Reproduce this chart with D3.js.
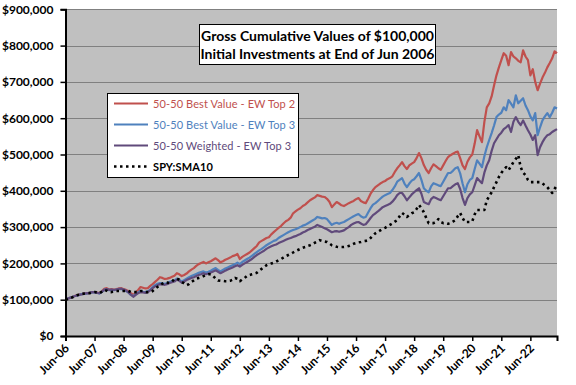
<!DOCTYPE html>
<html>
<head>
<meta charset="utf-8">
<script src="https://cdn.jsdelivr.net/npm/d3@7"></script>
<style>
  body { margin: 0; background: #fff; }
  svg text { font-family: Lato, "Open Sans", sans-serif; }
</style>
</head>
<body>
<svg id="chart" width="576" height="385"></svg>
<script>
// monthly values in $ thousands, Jun-06 .. May-23
const bestTop2 = [
  100, 103, 106, 108, 111, 113, 115, 116, 118, 117, 119, 121,
  121, 120, 118, 123, 130, 132, 128, 129, 127, 129, 131, 132,
  129, 127, 124, 118, 113, 120, 127, 135, 133, 131, 132, 138,
  143, 149, 155, 162, 160, 157, 158, 160, 163, 166, 173, 170,
  165, 168, 172, 178, 183, 187, 193, 198, 201, 204, 200, 203,
  206, 210, 214, 209, 203, 206, 210, 213, 216, 220, 222, 226,
  212, 218, 222, 226, 230, 236, 242, 248, 258, 262, 266, 270,
  272, 280, 286, 292, 298, 303, 310, 316, 320, 326, 338, 343,
  348, 352, 358, 362, 368, 374, 378, 382, 388, 386, 384, 383,
  378, 370, 355, 362, 369, 365, 360, 358, 362, 366, 369, 372,
  377, 380, 372, 368, 366, 378, 392, 402, 410, 415, 420, 424,
  427, 432, 435, 440, 452, 462, 470, 479, 468, 460, 470, 475,
  479, 490, 504, 490, 471, 458, 449, 462, 473, 468, 462, 458,
  470, 482, 493, 498, 502, 506, 508, 490, 470, 460, 480, 492,
  500, 530, 567, 550, 534, 590, 630, 641, 660, 690, 718, 740,
  760, 779, 772, 746, 782, 770, 765, 758, 754, 787, 770, 760,
  718, 735, 700, 677, 695, 712, 725, 740, 752, 765, 784, 779
];
const bestTop3 = [
  100, 103, 106, 108, 110, 112, 114, 116, 117, 117, 119, 120,
  120, 119, 117, 121, 127, 129, 126, 127, 126, 128, 129, 130,
  127, 124, 120, 113, 110, 115, 120, 124, 122, 121, 123, 128,
  135, 140, 144, 146, 145, 144, 146, 149, 151, 153, 158, 155,
  150, 154, 158, 162, 165, 168, 171, 174, 176, 178, 175, 177,
  180, 184, 187, 182, 178, 182, 186, 189, 192, 195, 198, 202,
  198, 204, 208, 212, 216, 221, 226, 231, 236, 240, 245, 250,
  254, 258, 262, 264, 270, 274, 278, 282, 286, 289, 292, 294,
  297, 300, 304, 306, 310, 314, 318, 322, 328, 326, 324, 325,
  322, 314, 306, 310, 312, 309, 312, 314, 318, 322, 326, 330,
  333, 336, 330, 326, 328, 340, 352, 362, 366, 372, 378, 384,
  388, 391, 394, 402, 412, 425, 430, 435, 420, 410, 420, 428,
  432, 440, 449, 430, 407, 400, 396, 412, 421, 418, 415, 413,
  425, 437, 449, 449, 455, 462, 465, 448, 420, 396, 418, 430,
  435, 460, 484, 475, 465, 495, 520, 540, 559, 580, 603, 610,
  615, 630, 622, 650, 640, 630, 663, 641, 648, 655, 635, 622,
  605, 594, 614, 553, 575, 594, 605, 614, 603, 615, 630, 627
];
const weightedTop3 = [
  100, 103, 105, 108, 110, 112, 114, 115, 117, 118, 119, 121,
  121, 119, 118, 122, 127, 129, 127, 128, 127, 128, 130, 130,
  128, 125, 120, 114, 108, 113, 118, 121, 120, 119, 121, 126,
  132, 137, 140, 143, 142, 141, 143, 146, 148, 150, 155, 152,
  147, 150, 154, 157, 160, 162, 165, 168, 170, 173, 170, 172,
  175, 178, 181, 177, 173, 176, 180, 183, 186, 189, 192, 195,
  191, 196, 200, 204, 208, 212, 218, 223, 227, 231, 235, 240,
  244, 247, 250, 252, 256, 259, 262, 265, 268, 270, 273, 275,
  278, 281, 285, 288, 292, 295, 298, 301, 306, 303, 300, 297,
  294, 290, 286, 288, 289, 287, 289, 291, 296, 300, 306, 310,
  313, 314, 310, 306, 308, 316, 325, 333, 338, 343, 349, 355,
  358, 361, 364, 370, 378, 388, 394, 394, 385, 374, 382, 390,
  396, 402, 407, 392, 369, 366, 363, 377, 383, 380, 377, 374,
  385, 396, 407, 407, 413, 418, 421, 405, 380, 361, 380, 390,
  396, 415, 435, 428, 421, 450, 470, 484, 510, 531, 542, 553,
  560, 570, 575, 581, 562, 590, 603, 590, 581, 594, 580, 567,
  555, 540, 553, 498, 520, 534, 545, 553, 556, 562, 566, 570
];
const spySma10 = [
  100, 102, 105, 107, 110, 113, 114, 116, 117, 118, 118, 120,
  121, 120, 118, 122, 127, 125, 121, 121, 122, 124, 124, 124,
  124, 124, 124, 121, 121, 121, 121, 124, 124, 121, 121, 121,
  124, 130, 135, 140, 144, 148, 147, 146, 150, 157, 158, 155,
  149, 145, 140, 143, 149, 153, 158, 160, 162, 165, 168, 170,
  170, 165, 158, 153, 152, 152, 151, 151, 152, 155, 160, 158,
  151, 156, 160, 166, 168, 170, 172, 174, 180, 185, 190, 195,
  198, 200, 202, 205, 209, 212, 216, 220, 223, 226, 230, 234,
  237, 240, 243, 245, 248, 250, 253, 257, 260, 264, 262, 260,
  259, 255, 250, 248, 246, 245, 245, 245, 246, 248, 251, 254,
  256, 258, 259, 261, 262, 264, 270, 277, 283, 287, 291, 295,
  298, 302, 306, 310, 315, 319, 330, 339, 334, 328, 333, 338,
  341, 350, 361, 352, 341, 325, 311, 311, 311, 314, 322, 314,
  311, 311, 309, 311, 315, 319, 330, 339, 325, 314, 314, 314,
  316, 335, 347, 347, 347, 347, 374, 385, 396, 410, 424, 438,
  449, 458, 465, 457, 468, 479, 488, 498, 465, 450, 443, 430,
  424, 424, 424, 424, 424, 420, 415, 410, 402, 394, 405, 416
];

const seriesNames = ["50-50 Best Value - EW Top 2", "50-50 Best Value - EW Top 3",
  "50-50 Weighted - EW Top 3", "SPY:SMA10"];
const tickLabels = ["Jun-06", "Jun-07", "Jun-08", "Jun-09", "Jun-10", "Jun-11", "Jun-12",
  "Jun-13", "Jun-14", "Jun-15", "Jun-16", "Jun-17", "Jun-18", "Jun-19", "Jun-20",
  "Jun-21", "Jun-22"];
const yTicks = [0, 100, 200, 300, 400, 500, 600, 700, 800, 900];
const titleLines = ["Gross Cumulative Values of $100,000", "Initial Investments at End  of Jun 2006"];

const series = [
  {name: seriesNames[0], values: bestTop2, color: "#C0504D", dash: null},
  {name: seriesNames[1], values: bestTop3, color: "#4F81BD", dash: null},
  {name: seriesNames[2], values: weightedTop3, color: "#604A7B", dash: null},
  {name: seriesNames[3], values: spySma10, color: "#000000", dash: "2.5,3.5"}
];

const svg = d3.select("#chart");
let plot = {left: 65.5, right: 557, top: 9.3, bottom: 336};

let x = d3.scaleLinear()
  .domain([0, bestTop2.length - 1])
  .range([plot.left, plot.right]);
let y = d3.scaleLinear()
  .domain([0, 900])
  .range([plot.bottom, plot.top]);

// plot background
svg.append("rect")
  .attr("x", plot.left).attr("y", plot.top)
  .attr("width", plot.right - plot.left).attr("height", plot.bottom - plot.top)
  .attr("fill", "#C0C0C0");

// gridlines
svg.append("g")
  .selectAll("line")
  .data(yTicks.filter(d => d > 0))
  .join("line")
  .attr("x1", plot.left).attr("x2", plot.right)
  .attr("y1", d => Math.round(y(d)) + 0.5).attr("y2", d => Math.round(y(d)) + 0.5)
  .attr("stroke", "#808080").attr("stroke-width", 1);

// series lines
let line = d3.line()
  .x((d, i) => x(i))
  .y(d => y(d));

svg.append("g")
  .selectAll("path")
  .data(series)
  .join("path")
  .attr("d", d => line(d.values))
  .attr("fill", "none")
  .attr("stroke", d => d.color)
  .attr("stroke-width", d => d.dash ? 2.6 : 2.2)
  .attr("stroke-linejoin", "round")
  .attr("stroke-dasharray", d => d.dash);

// y axis
let yAxis = d3.axisLeft(y)
  .tickValues(yTicks)
  .tickSize(5)
  .tickPadding(7)
  .tickFormat(d => "$" + d3.format(",")(d * 1000));

svg.append("g")
  .attr("transform", "translate(" + plot.left + ",0)")
  .call(yAxis)
  .call(g => g.select(".domain").attr("stroke-width", 2))
  .call(g => g.selectAll(".tick line").attr("stroke-width", 1.5))
  .call(g => g.selectAll("text")
    .attr("font-size", 12).attr("font-weight", "bold")
    .attr("font-family", "Lato, sans-serif").attr("fill", "#000"));

// x axis
let xAxis = d3.axisBottom(x)
  .tickValues(tickLabels.map((d, i) => i * 12))
  .tickSize(5)
  .tickFormat((d, i) => tickLabels[i]);

svg.append("g")
  .attr("transform", "translate(0," + plot.bottom + ")")
  .call(xAxis)
  .call(g => g.select(".domain").attr("stroke-width", 2))
  .call(g => g.selectAll(".tick line").attr("stroke-width", 1.5))
  .call(g => g.selectAll("text")
    .attr("font-size", 12).attr("font-weight", "bold")
    .attr("font-family", "Lato, sans-serif").attr("fill", "#000")
    .attr("text-anchor", "end")
    .attr("dy", null).attr("y", 0)
    .attr("transform", "translate(4,13) rotate(-45)"));

// title box
let title = svg.append("g");
title.append("rect")
  .attr("x", 199.5).attr("y", 24.5).attr("width", 236).attr("height", 40)
  .attr("fill", "#fff").attr("stroke", "#000").attr("stroke-width", 1);
title.selectAll("text")
  .data(titleLines)
  .join("text")
  .attr("x", 317.5).attr("y", (d, i) => 41 + i * 18)
  .attr("text-anchor", "middle")
  .attr("font-size", 14).attr("font-weight", "bold")
  .text(d => d);

// legend
let legend = svg.append("g");
legend.append("rect")
  .attr("x", 107.5).attr("y", 93.5).attr("width", 191).attr("height", 84)
  .attr("fill", "#fff").attr("stroke", "#000").attr("stroke-width", 1);

let items = legend.selectAll("g.item")
  .data(series)
  .join("g")
  .attr("class", "item")
  .attr("transform", (d, i) => "translate(0," + (103.5 + i * 21) + ")");

items.append("line")
  .attr("x1", 114).attr("x2", 148)
  .attr("stroke", d => d.color)
  .attr("stroke-width", d => d.dash ? 2.6 : 2.2)
  .attr("stroke-dasharray", d => d.dash);

items.append("text")
  .attr("x", 153).attr("y", 4.5)
  .attr("font-size", 11)
  .attr("letter-spacing", 0.1)
  .attr("font-weight", d => d.dash ? "bold" : "normal")
  .attr("fill", d => d.dash ? "#000" : d.color)
  .text(d => d.name);
</script>
</body>
</html>
